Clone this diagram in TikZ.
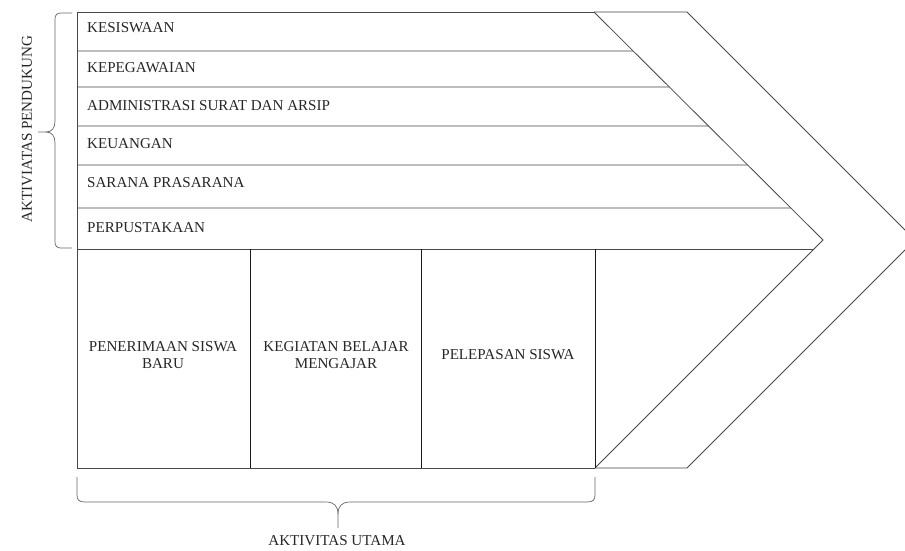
\documentclass[tikz,border=0pt]{standalone}
\usepackage{fontspec}
\setmainfont{Liberation Serif}
\begin{document}
\begin{tikzpicture}[x=1pt,y=-1pt,
  ln/.style={draw=black!72,line width=0.8pt},
  vln/.style={draw=black!90,line width=0.9pt},
  brc/.style={draw=black!60,line width=0.7pt},
  lbl/.style={inner sep=0pt,font=\fontsize{15.1}{17}\selectfont,text=black!85},
  rowlbl/.style={lbl,anchor=west}]
\useasboundingbox (0,0) rectangle (905,550);
\clip (0,0) rectangle (905,550);
% key points
\coordinate (TL) at (77,12);
\coordinate (BL) at (77,468);
\coordinate (innerTop) at (594,12);
\coordinate (innerTip) at (823,240);
\coordinate (innerBot) at (595,468);
\coordinate (outerTop) at (687,12);
\coordinate (outerTip) at (915,240);
\coordinate (outerBot) at (687,468);
% outline
\draw[ln] (innerTop) -- (TL) -- (BL) -- (innerBot);
\draw[ln] (innerTop) -- (outerTop) -- (outerTip) -- (outerBot) -- (innerBot);
\draw[ln] (innerTop) -- (innerTip) -- (innerBot);
% support rows
\foreach \y/\n in {51/r1,87/r2,126/r3,165/r4,208/r5}{
  \coordinate (\n L) at (77,\y);
  \coordinate (\n F) at (900,\y);
  \draw[ln] (\n L) -- (intersection of \n L--\n F and innerTop--innerTip);
}
\coordinate (r6L) at (77,249);
\coordinate (r6F) at (900,249);
\draw[ln] (r6L) -- (intersection of r6L--r6F and innerTip--innerBot);
% main activity columns
\foreach \x/\n in {250/c1,421/c2,595/c3}{
  \coordinate (\n T) at (\x,249);
  \coordinate (\n B) at (\x,468);
  \draw[vln] (\n T) -- (\n B);
}
% row labels
\node[rowlbl] (kesiswaan) at (87,28) {KESISWAAN};
\node[rowlbl] (kepegawaian) at (87,68) {KEPEGAWAIAN};
\node[rowlbl] (admin) at (87,106) {ADMINISTRASI SURAT DAN ARSIP};
\node[rowlbl] (keuangan) at (87,144) {KEUANGAN};
\node[rowlbl] (sarana) at (87,183) {SARANA PRASARANA};
\node[rowlbl] (perpus) at (87,228) {PERPUSTAKAAN};
% main labels
\node[lbl,align=center] (psb) at (163,355) {PENERIMAAN SISWA\\BARU};
\node[lbl,align=center] (kbm) at (336,355) {KEGIATAN BELAJAR\\MENGAJAR};
\node[lbl,align=center] (pelepasan) at (508,355) {PELEPASAN SISWA};
% left brace
\coordinate (lbTip) at (38,132);
\draw[brc] (72,13) -- (61,13) .. controls (57,13) and (55,15) .. (55,19) -- (55,121)
  .. controls (55,128) and (52,132) .. (46,132) -- (lbTip);
\draw[brc] (72,248) -- (61,248) .. controls (57,248) and (55,246) .. (55,242) -- (55,143)
  .. controls (55,136) and (52,132) .. (46,132);
\node[lbl,rotate=90] (pendukung) at (27,129) {AKTIVIATAS PENDUKUNG};
% bottom brace
\coordinate (bbTip) at (338,528);
\draw[brc] (77,477) -- (77,495) .. controls (77,500) and (79,502) .. (85,502) -- (326,502)
  .. controls (334,502) and (338,506) .. (338,514) -- (bbTip);
\draw[brc] (595,477) -- (595,495) .. controls (595,500) and (593,502) .. (587,502) -- (350,502)
  .. controls (342,502) and (338,506) .. (338,514);
\node[lbl] (utama) at (337,541) {AKTIVITAS UTAMA};
\end{tikzpicture}
\end{document}
